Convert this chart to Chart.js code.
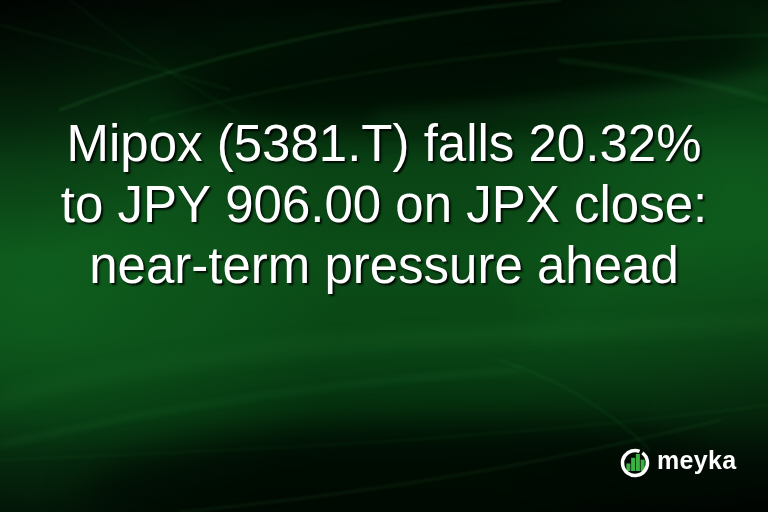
<!DOCTYPE html>
<html>
<head>
  <meta charset="UTF-8">
  <title>Mipox headline card</title>
  <script src="https://cdn.jsdelivr.net/npm/chart.js"></script>
  <style>
    html, body { margin: 0; padding: 0; background: #021a08; }
    #wrap { position: relative; width: 768px; height: 512px; overflow: hidden; }
    #card { position: absolute; left: 0; top: 0; }
    #logoWrap { position: absolute; left: 619px; top: 447px; width: 32px; height: 32px; }
    #logoText { position: absolute; left: 657px; top: 446px; color: #fff;
      font: bold 25px "Liberation Sans", Arial, sans-serif; letter-spacing: 0.3px; }
  </style>
</head>
<body>
  <div id="wrap">
    <canvas id="card" width="768" height="512"></canvas>
    <div id="logoWrap"><canvas id="logoBars" width="32" height="32"></canvas></div>
    <div id="logoText">meyka</div>
  </div>

  <script>
    // headline text, one entry per line
    const titleLines = [
      'Mipox (5381.T) falls 20.32%',
      'to JPY 906.00 on JPX close:',
      'near-term pressure ahead'
    ];
    // little bars inside the logo ring
    const logoLabels = ['a', 'b', 'c', 'd'];
    const logoValues = [4, 7, 9, 6];

    // paints the green wavy backdrop behind the chart area
    const backdrop = {
      id: 'backdrop',
      beforeDraw(chart) {
        const c = chart.ctx;
        const w = chart.width, h = chart.height;
        c.save();
        let g = c.createLinearGradient(0, 0, 0, h);
        g.addColorStop(0, '#010a03');
        g.addColorStop(0.12, '#021a07');
        g.addColorStop(0.22, '#042a0c');
        g.addColorStop(0.32, '#0a4315');
        g.addColorStop(0.5, '#0b4d17');
        g.addColorStop(0.66, '#0a4716');
        g.addColorStop(0.8, '#05300e');
        g.addColorStop(0.9, '#021407');
        g.addColorStop(1, '#010803');
        c.fillStyle = g;
        c.fillRect(0, 0, w, h);

        const glow = (x, y, rad, col) => {
          const r = c.createRadialGradient(x, y, 5, x, y, rad);
          r.addColorStop(0, col);
          r.addColorStop(1, col.replace(/[\d.]+\)$/, '0)'));
          c.fillStyle = r;
          c.fillRect(0, 0, w, h);
        };
        // brighter glow left middle and right
        glow(40, 290, 300, 'rgba(18,110,36,0.5)');
        glow(740, 190, 260, 'rgba(18,110,36,0.45)');
        glow(700, 320, 200, 'rgba(15,95,30,0.35)');
        // dark blobs
        c.filter = 'blur(18px)';
        c.fillStyle = 'rgba(0,10,2,0.75)';
        c.beginPath();
        c.ellipse(470, 70, 300, 50, -0.08, 0, Math.PI * 2);
        c.fill();
        c.fillStyle = 'rgba(0,10,2,0.7)';
        c.beginPath();
        c.ellipse(400, 480, 320, 55, -0.05, 0, Math.PI * 2);
        c.fill();
        c.filter = 'none';
        glow(0, 0, 260, 'rgba(0,0,0,0.65)');
        glow(w, h, 280, 'rgba(0,0,0,0.55)');

        // soft light streaks
        c.lineCap = 'round';
        const streak = (pts, col, lw, blur) => {
          c.filter = 'blur(' + blur + 'px)';
          c.beginPath();
          c.moveTo(pts[0], pts[1]);
          c.bezierCurveTo(pts[2], pts[3], pts[4], pts[5], pts[6], pts[7]);
          c.strokeStyle = col;
          c.lineWidth = lw;
          c.stroke();
        };
        streak([60, 110, 200, 55, 380, 15, 560, 0], 'rgba(70,190,90,0.2)', 2, 1.5);
        streak([150, 120, 330, 70, 560, 40, 768, 35], 'rgba(70,190,90,0.13)', 2, 1.5);
        streak([0, 25, 60, 40, 130, 60, 230, 90], 'rgba(70,190,90,0.09)', 2, 1.5);
        streak([70, 0, 120, 40, 180, 80, 240, 115], 'rgba(70,190,90,0.08)', 2, 1.5);
        streak([560, 60, 640, 70, 700, 80, 768, 100], 'rgba(70,190,90,0.16)', 3, 2);
        streak([380, 120, 500, 110, 620, 105, 768, 80], 'rgba(60,170,80,0.1)', 16, 8);
        streak([0, 445, 150, 410, 300, 385, 520, 370], 'rgba(60,170,80,0.14)', 4, 3);
        streak([0, 400, 250, 330, 500, 340, 768, 320], 'rgba(60,170,80,0.1)', 14, 8);
        streak([500, 360, 560, 380, 610, 410, 650, 450], 'rgba(70,190,90,0.1)', 2, 1.5);
        streak([0, 460, 250, 450, 500, 440, 768, 405], 'rgba(70,190,90,0.08)', 2, 1.5);
        streak([180, 512, 400, 490, 560, 460, 720, 420], 'rgba(70,190,90,0.12)', 2, 1.5);
        c.filter = 'none';
        c.restore();
      }
    };

    new Chart(document.getElementById('card'), {
      type: 'bar',
      data: { labels: [], datasets: [] },
      options: {
        responsive: false,
        animation: false,
        layout: { padding: { top: 106 } },
        scales: { x: { display: false }, y: { display: false } },
        plugins: {
          legend: { display: false },
          tooltip: { enabled: false },
          title: {
            display: true,
            text: titleLines,
            color: '#ffffff',
            font: { family: '"Liberation Sans", Arial, sans-serif', size: 51, weight: 'normal', lineHeight: 1.2 }
          }
        }
      },
      plugins: [backdrop, {
        id: 'titleShadow',
        beforeDraw(chart) {
          chart.ctx.shadowColor = 'rgba(0,0,0,0.85)';
          chart.ctx.shadowOffsetX = 2;
          chart.ctx.shadowOffsetY = 2;
          chart.ctx.shadowBlur = 2;
        }
      }]
    });

    // logo: white ring drawn around a tiny bar chart
    const ring = {
      id: 'ring',
      afterDraw(chart) {
        const c = chart.ctx;
        c.save();
        c.beginPath();
        c.arc(16, 16, 12.5, -Math.PI * 0.3, Math.PI * 1.62);
        c.strokeStyle = '#ffffff';
        c.lineWidth = 3.5;
        c.stroke();
        c.restore();
      }
    };
    new Chart(document.getElementById('logoBars'), {
      type: 'bar',
      data: {
        labels: logoLabels,
        datasets: [{ data: logoValues, backgroundColor: '#3cb043', barPercentage: 0.85, categoryPercentage: 1 }]
      },
      options: {
        responsive: false,
        animation: false,
        layout: { padding: { left: 7, right: 6, top: 7, bottom: 8 } },
        scales: { x: { display: false }, y: { display: false, min: 0, max: 9 } },
        plugins: { legend: { display: false }, tooltip: { enabled: false } }
      },
      plugins: [ring]
    });
  </script>
</body>
</html>
